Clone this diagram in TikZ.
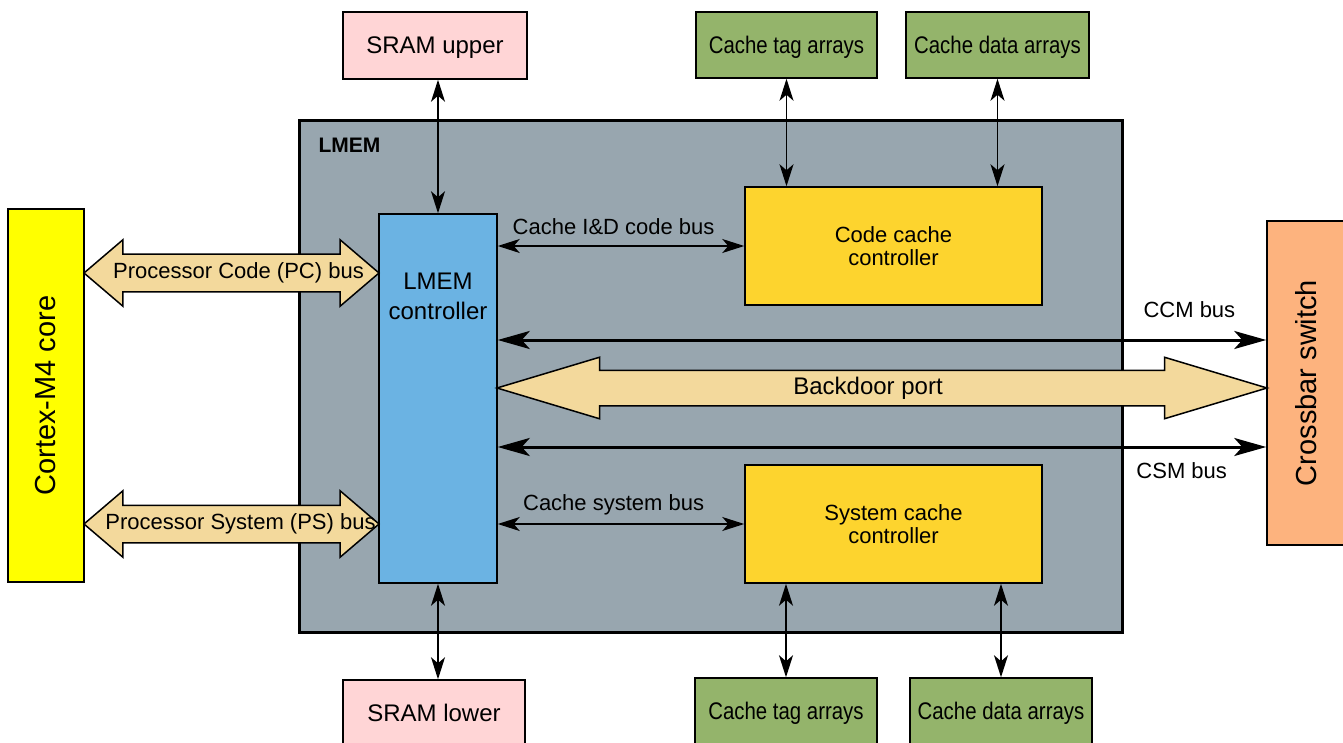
\documentclass[tikz,border=0pt]{standalone}
\usepackage{fontspec}
\setmainfont{Liberation Sans}
\usepackage{tikz}
\usetikzlibrary{positioning}
\usetikzlibrary{shapes.arrows}
\usetikzlibrary{arrows.meta}
\usetikzlibrary{calc}

\definecolor{lmemgray}{HTML}{98A6AF}
\definecolor{coreyellow}{HTML}{FFFF00}
\definecolor{xbarorange}{HTML}{FDB37E}
\definecolor{srampink}{HTML}{FFD5D6}
\definecolor{arraygreen}{HTML}{94B46B}
\definecolor{ctrlblue}{HTML}{6BB3E3}
\definecolor{cachegold}{HTML}{FDD42E}
\definecolor{busbeige}{HTML}{F3D99C}

\newcommand{\bustext}{\fontsize{11}{13}\selectfont}
\newcommand{\boxtext}{\fontsize{12}{14}\selectfont}
\newcommand{\coretext}{\fontsize{14.5}{16}\selectfont}
\newcommand{\ctrltext}{\fontsize{12}{15}\selectfont}
\newcommand{\cachetext}{\fontsize{11}{11.5}\selectfont}
\newcommand{\lmemtitle}{\fontsize{10.5}{12}\selectfont\bfseries}
\newcommand{\squeezed}[1]{\scalebox{0.85}[1]{#1}}

\tikzset{
  block/.style={draw, line width=0.75pt, inner sep=0pt, align=center},
  outer/.style={block, minimum height=33pt, text depth=0pt, font=\boxtext},
  link/.style={{Stealth[length=11pt,width=7pt,inset=3pt]}-{Stealth[length=11pt,width=7pt,inset=3pt]}, line width=0.75pt},
  widelink/.style={{Stealth[length=16pt,width=9pt,inset=4pt]}-{Stealth[length=16pt,width=9pt,inset=4pt]}, line width=1.5pt},
  busarrow/.style={double arrow, draw, fill=busbeige, line width=0.75pt, inner xsep=0pt}
}

\begin{document}
\begin{tikzpicture}[x=0.5pt,y=-0.5pt]
  \useasboundingbox (0,0) rectangle (1343,743);
  \node[block, line width=1.5pt, fill=lmemgray, minimum width=411.5pt, minimum height=255.5pt,
        label={[anchor=center, xshift=26pt, yshift=-13pt, font=\lmemtitle]north west:LMEM}] (lmem) at (710.5,376.5) {};

  \node[block, fill=coreyellow, minimum width=38pt, minimum height=186.5pt, font=\coretext] (core) at (46,395.5) {\rotatebox{90}{Cortex-M4 core}};
  \node[block, fill=xbarorange, minimum width=39pt, minimum height=162pt, font=\coretext] (xbar) at (1306,383) {\rotatebox{90}{Crossbar switch}};
  \node[outer, fill=srampink, minimum width=92pt, minimum height=33.5pt] (sramup) at (435,45.5) {SRAM upper};
  \node[outer, fill=srampink, minimum width=91pt] (sramlo) at (434,713) {SRAM lower};
  \node[outer, fill=arraygreen, minimum width=90.5pt] (tagup) at (786.5,45) {\squeezed{Cache tag arrays}};
  \node[outer, fill=arraygreen, minimum width=91.5pt] (dataup) at (997.5,45) {\squeezed{Cache data arrays}};
  \node[outer, fill=arraygreen, minimum width=91pt] (taglo) at (786,711) {\squeezed{Cache tag arrays}};
  \node[outer, fill=arraygreen, minimum width=91pt] (datalo) at (1001,711) {\squeezed{Cache data arrays}};

  \node[block, fill=ctrlblue, minimum width=59pt, minimum height=184.5pt,
        label={[anchor=center, yshift=-41.5pt, align=center, font=\ctrltext]north:LMEM\\controller}] (ctrl) at (438,398.5) {};
  \node[block, fill=cachegold, minimum width=148.5pt, minimum height=59pt, font=\cachetext] (codecache) at (893.5,246) {Code cache\\controller};
  \node[block, fill=cachegold, minimum width=148.5pt, minimum height=59pt, font=\cachetext] (syscache) at (893.5,524) {System cache\\controller};

  \draw[link] (sramup.south -| ctrl.north) -- (ctrl.north);
  \draw[link] (sramlo.north -| ctrl.south) -- (ctrl.south);
  \draw[link] (tagup.south) -- (tagup.south |- codecache.north);
  \draw[link] (dataup.south) -- (dataup.south |- codecache.north);
  \draw[link] (syscache.south -| taglo.north) -- (taglo.north);
  \draw[link] (syscache.south -| datalo.north) -- (datalo.north);
  \draw[link] (ctrl.east |- codecache.west) -- node[pos=0.47, above=2pt, font=\bustext] (idbus) {Cache I\&D code bus} (codecache.west);
  \draw[link] (ctrl.east |- syscache.west) -- node[pos=0.47, above=1pt, font=\bustext] (sysbus) {Cache system bus} (syscache.west);

  \coordinate (ccm) at (0,340);
  \coordinate (csm) at (0,447);
  \draw[widelink] (ctrl.east |- ccm) -- node[pos=0.9, above=7pt, font=\bustext] (ccmbus) {CCM bus} (xbar.west |- ccm);
  \draw[widelink] (ctrl.east |- csm) -- node[pos=0.89, below=3.5pt, font=\bustext] (csmbus) {CSM bus} (xbar.west |- csm);

  \node[busarrow, double arrow tip angle=33.4, double arrow head extend=6.5pt, inner ysep=8.5pt, minimum height=385pt,
        label={[font=\boxtext, xshift=-7pt]center:{Backdoor port}}] (backdoor) at ($(ctrl.east |- 0,388)!0.5!(xbar.west |- 0,388)$) {};
  \node[busarrow, double arrow tip angle=81, double arrow head extend=7.25pt, inner ysep=9pt, minimum height=147.5pt,
        label={[font=\bustext, xshift=3.5pt]center:{Processor Code (PC) bus}}] (pcbus) at ($(core.east |- 0,273)!0.5!(ctrl.west |- 0,273)$) {};
  \node[busarrow, double arrow tip angle=81, double arrow head extend=7.25pt, inner ysep=9pt, minimum height=147.5pt,
        label={[font=\bustext, xshift=4.5pt]center:{Processor System (PS) bus}}] (psbus) at ($(core.east |- 0,524)!0.5!(ctrl.west |- 0,524)$) {};
\end{tikzpicture}
\end{document}
